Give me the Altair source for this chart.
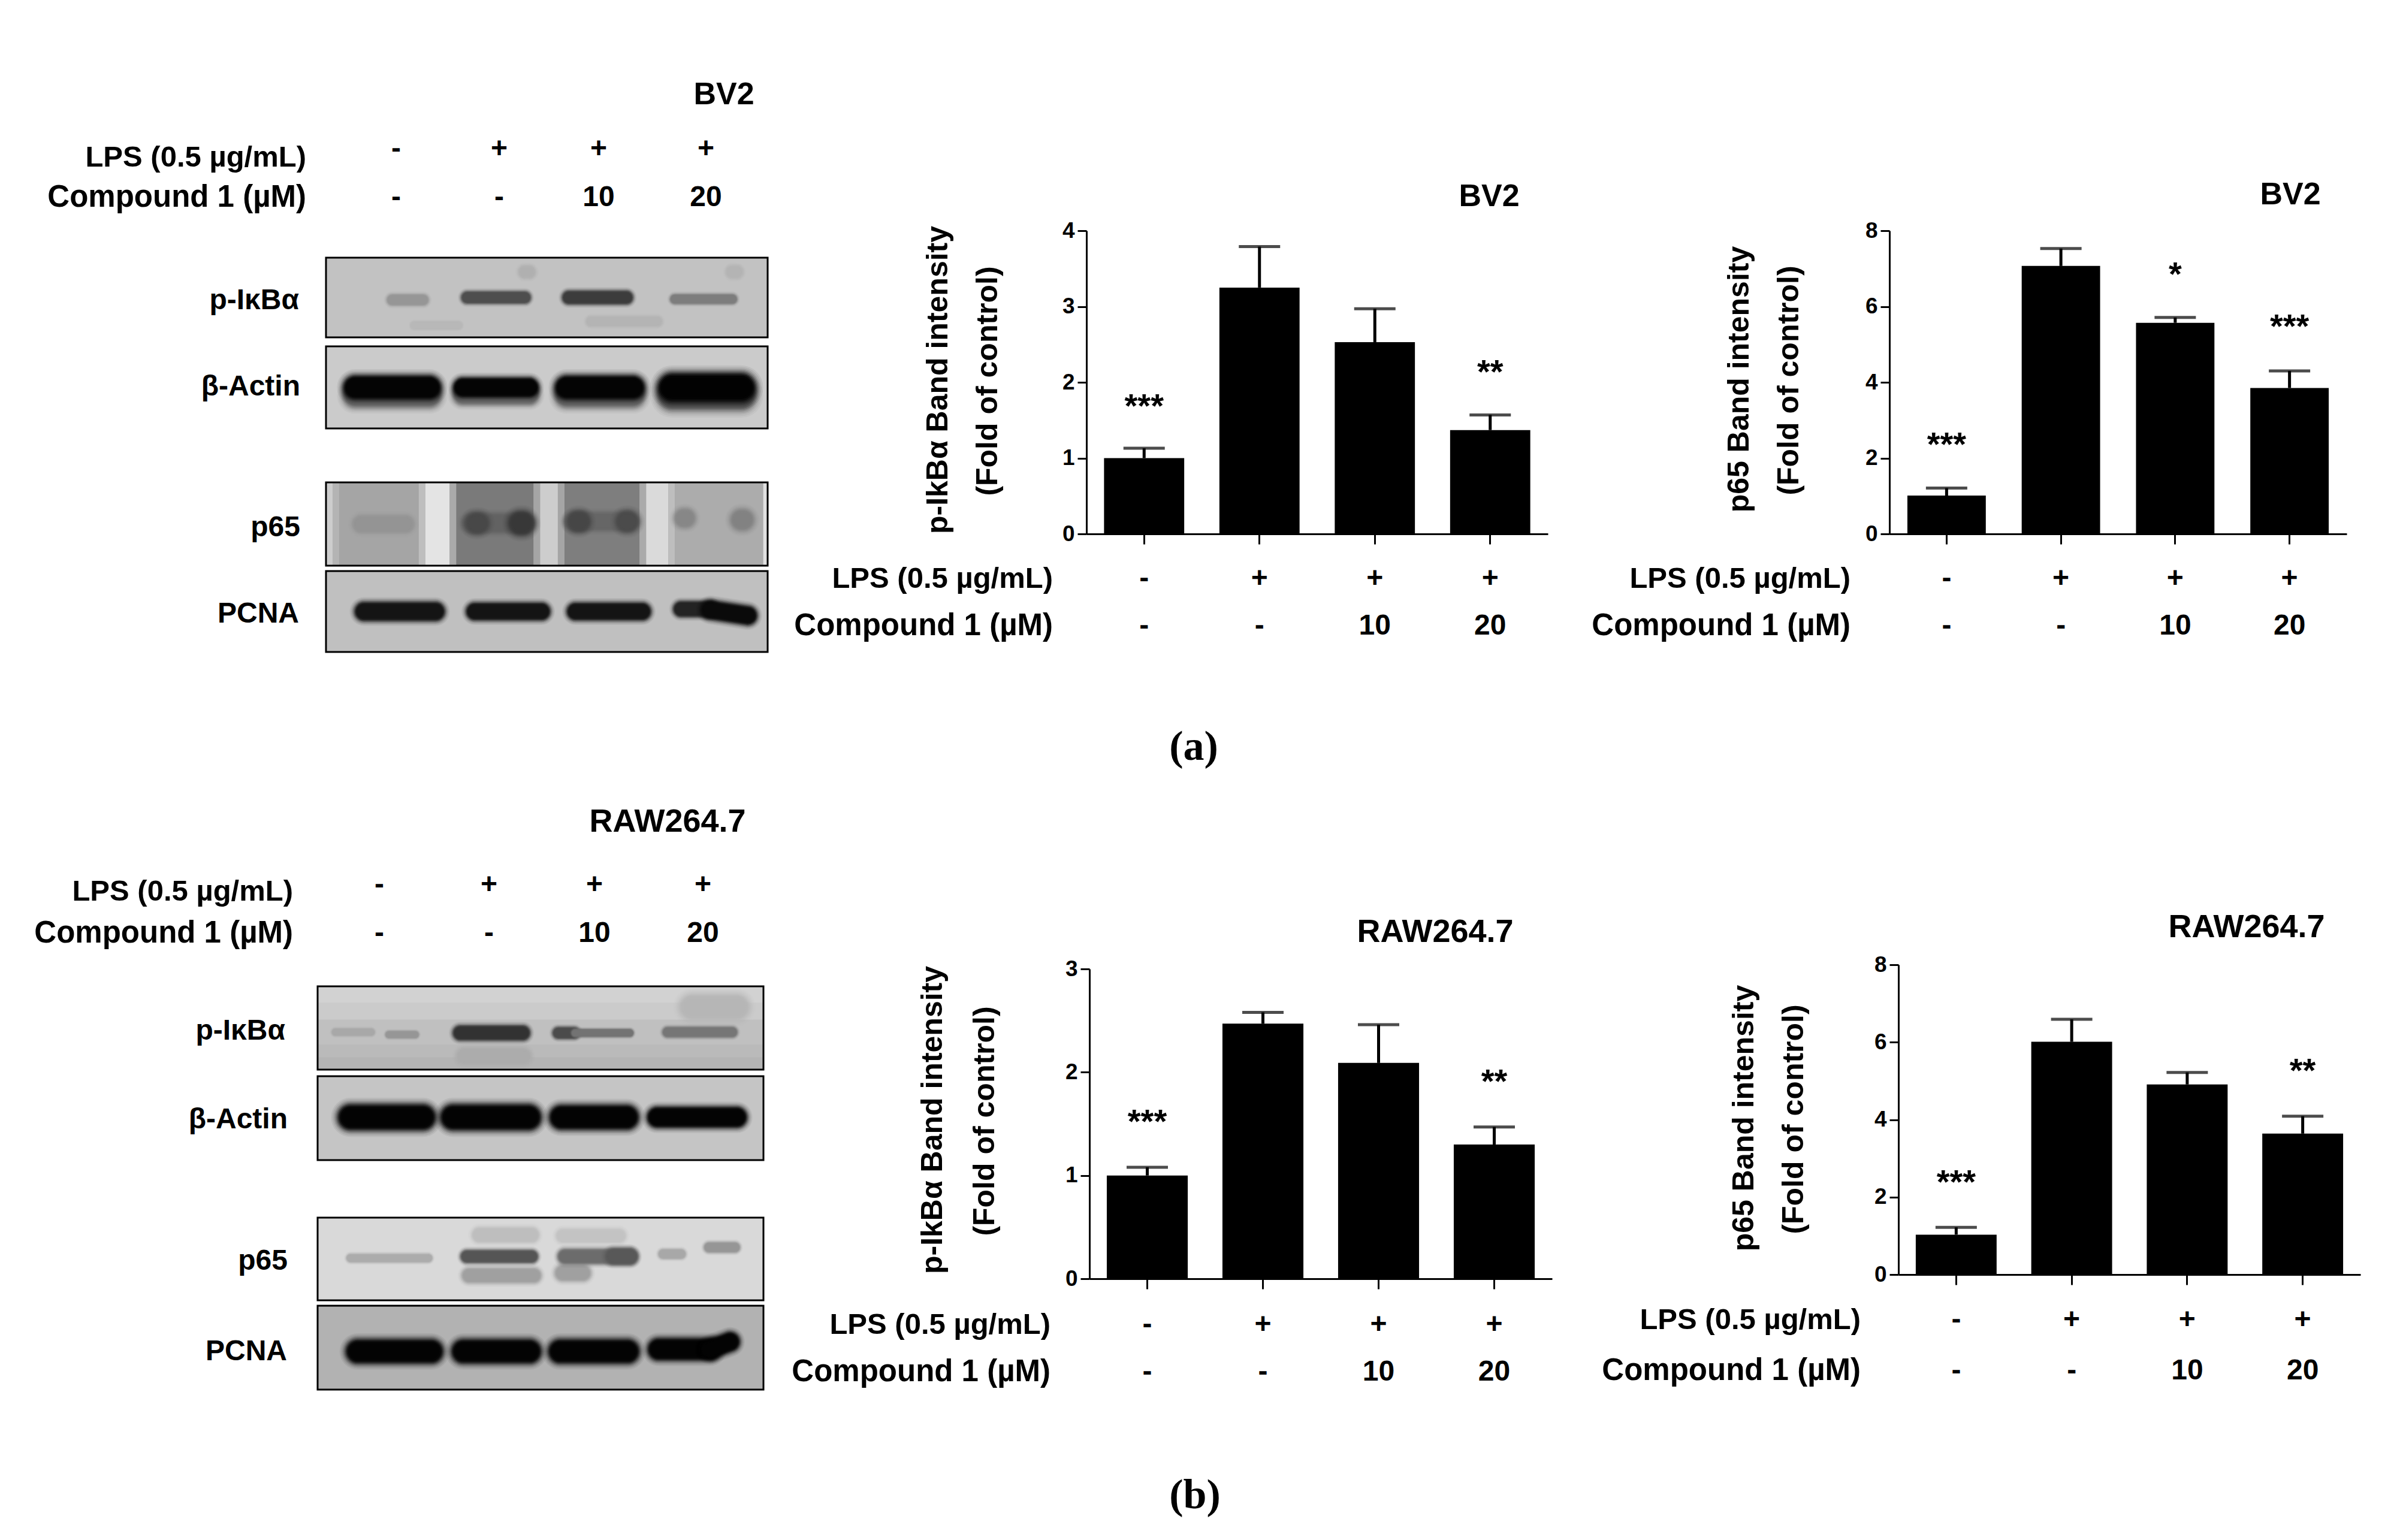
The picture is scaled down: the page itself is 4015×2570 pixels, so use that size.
import altair as alt
import pandas as pd

W, H = 3999, 2554
M = 8
SANS = "Liberation Sans"
SERIF = "Liberation Serif"

GROUPS = ["g1", "g2", "g3", "g4"]
LPS = ["-", "+", "+", "+"]
COMPOUND = ["-", "-", "10", "20"]
LPS_LABEL = "LPS (0.5 µg/mL)"
COMPOUND_LABEL = "Compound 1 (µM)"
FOLD = "(Fold of control)"

A1_MEAN = [1.00, 3.25, 2.53, 1.37]
A1_ERR = [1.13, 3.79, 2.97, 1.57]
A1_STARS = ["***", "", "", "**"]
A1_STAR_Y = [1.74, 0, 0, 2.19]
A1_TICKS = [0, 1, 2, 3, 4]

A2_MEAN = [1.01, 7.07, 5.57, 3.85]
A2_ERR = [1.21, 7.53, 5.71, 4.30]
A2_STARS = ["***", "", "*", "***"]
A2_STAR_Y = [2.47, 0, 6.96, 5.58]
A2_TICKS = [0, 2, 4, 6, 8]

B1_MEAN = [1.00, 2.47, 2.09, 1.30]
B1_ERR = [1.08, 2.58, 2.46, 1.47]
B1_STARS = ["***", "", "", "**"]
B1_STAR_Y = [1.56, 0, 0, 1.95]
B1_TICKS = [0, 1, 2, 3]

B2_MEAN = [1.03, 6.01, 4.91, 3.64]
B2_ERR = [1.22, 6.59, 5.22, 4.09]
B2_STARS = ["***", "", "", "**"]
B2_STAR_Y = [2.49, 0, 0, 5.37]
B2_TICKS = [0, 2, 4, 6, 8]

# Blot strips. Patches: x0, x1, y0, y1, grey. Bands: x0, x1, y0, y1, thickness, grey.
A_PIKB_BG = 194
A_PIKB_BANDS = [(45, 46, 18, 18, 20, 176), (92, 93, 18, 18, 20, 180), (20, 30, 85, 85, 12, 184), (60, 75, 80, 80, 16, 180),
                (15, 22, 53, 53, 18, 150), (32, 45, 50, 50, 20, 78), (55, 68, 50, 50, 22, 60), (79, 92, 52, 52, 16, 125)]
A_ACTIN_BG = 203
A_ACTIN_BANDS = [(6.6, 23.4, 60, 60, 38, 105), (31, 46, 59, 59, 32, 105), (54.5, 69.5, 60, 60, 38, 105), (78.4, 94, 60, 60, 46, 90),
                 (6.6, 23.4, 50, 50, 38, 4), (31, 46, 50, 50, 31, 4), (54.5, 69.5, 50, 50, 38, 4), (78.4, 94, 50, 50, 46, 2)]
A_P65_BG = 160
A_P65_PATCHES = [(0, 1.5, 0, 100, 205), (1.5, 3, 0, 100, 180), (3, 21, 0, 100, 165), (21, 22.5, 0, 100, 190), (22.5, 28, 0, 100, 228), (28, 29.5, 0, 100, 170),
                 (29.5, 47, 0, 100, 122), (47, 48.5, 0, 100, 165), (48.5, 52.5, 0, 100, 205), (52.5, 54, 0, 100, 165), (54, 71, 0, 100, 126),
                 (71, 72.5, 0, 100, 170), (72.5, 77.5, 0, 100, 218), (77.5, 79, 0, 100, 190), (79, 99, 0, 100, 172), (99, 100, 0, 100, 225)]
A_P65_BANDS = [(8, 18, 50, 50, 28, 148), (33, 45, 49, 49, 30, 98), (34, 34.5, 49, 49, 34, 72), (44, 44.5, 49, 49, 38, 56),
               (56, 68, 47, 47, 28, 102), (57, 57.5, 47, 47, 34, 70), (68, 68.5, 47, 47, 34, 75), (81, 81.5, 43, 43, 30, 135), (94, 94.5, 45, 45, 34, 130)]
A_PCNA_BG = 192
A_PCNA_BANDS = [(8.6, 24.8, 50, 50, 30, 20), (33.7, 48.8, 50, 50, 28, 20), (56.5, 71.6, 50, 50, 28, 20), (80.4, 87, 47, 47, 25, 35), (87, 95.5, 48, 55, 30, 10)]

B_PIKB_BG = 192
B_PIKB_PATCHES = [(0, 100, 0, 20, 210), (0, 100, 20, 40, 203), (0, 100, 70, 85, 186), (0, 100, 85, 100, 180)]
B_PIKB_BANDS = [(84, 94, 25, 25, 40, 182), (33, 46, 84, 84, 26, 172), (4, 12, 55, 55, 12, 168), (16, 21.9, 58, 58, 12, 150),
                (32, 46, 56, 56, 24, 50), (54, 57.5, 56, 56, 19, 75), (57.8, 70, 56, 56, 13, 115), (78.5, 93, 55, 55, 17, 118)]
B_ACTIN_BG = 197
B_ACTIN_BANDS = [(7.4, 23.6, 49, 49, 41, 3), (30.4, 47.3, 49, 49, 41, 3), (54.7, 69.3, 49, 49, 39, 3), (76.2, 94, 49, 49, 33, 3)]
B_P65_BG = 217
B_P65_BANDS = [(7.4, 24.8, 49, 49, 14, 172), (34, 48.5, 70, 70, 24, 160), (36.3, 48, 21, 21, 24, 190), (55, 59.5, 67, 67, 26, 160), (55, 67.6, 22, 22, 22, 195),
               (33.5, 48, 47, 47, 21, 85), (55.5, 70, 47, 47, 24, 108), (66.4, 70, 47, 47, 26, 88), (77.5, 81.5, 44, 44, 16, 168), (87.8, 93.6, 36, 36, 17, 150)]
B_PCNA_BG = 178
B_PCNA_BANDS = [(9, 25.5, 54.5, 54.5, 38, 3), (32.7, 47.5, 54.5, 54.5, 38, 3), (54.4, 69.5, 54.5, 54.5, 38, 3), (76.5, 88, 52, 52, 35, 3), (88, 92.5, 52, 43, 31, 3)]

SOFT_EDGE = [(1.6, 0.06), (1.48, 0.08), (1.36, 0.12), (1.26, 0.18), (1.16, 0.28), (1.06, 0.4), (0.96, 0.6), (0.85, 0.85), (0.7, 1.0)]


def grey(v):
    return "#{0:02x}{0:02x}{0:02x}".format(int(v))


def label(text, x, y, size, align="center", angle=0, font=SANS, weight="bold"):
    return alt.Chart(alt.Data(values=[{}])).mark_text(
        text=text, align=align, baseline="middle", fontSize=size, font=font,
        fontWeight=weight, angle=angle, color="#000000",
    ).encode(x=alt.value(x - M), y=alt.value(y - M + (2 if angle == 0 else 0)))


def strip(x0, x1, y0, y1, bg, bands, patches=()):
    xs = alt.Scale(domain=[0, 100], range=[x0 - M, x1 - M], nice=False, zero=False)
    ys = alt.Scale(domain=[0, 100], range=[y0 - M, y1 - M], nice=False, zero=False)
    rects = [(0, 100, 0, 100, bg)] + list(patches)
    rdf = pd.DataFrame(rects, columns=["a", "b", "c", "d", "g"])
    rdf["col"] = rdf["g"].map(grey)
    back = alt.Chart(rdf).mark_rect().encode(
        x=alt.X("a:Q", scale=xs, axis=None), x2="b:Q",
        y=alt.Y("c:Q", scale=ys, axis=None), y2="d:Q",
        fill=alt.Fill("col:N", scale=None),
    )
    rows_ = []
    for a, b, c, d, w, g in bands:
        for fw, op in SOFT_EDGE:
            rows_.append(dict(a=a, b=b, c=c, d=d, w=w * fw, o=op, col=grey(g)))
    marks = alt.Chart(pd.DataFrame(rows_)).mark_rule(strokeCap="round").encode(
        x=alt.X("a:Q", scale=xs, axis=None), x2="b:Q",
        y=alt.Y("c:Q", scale=ys, axis=None), y2="d:Q",
        stroke=alt.Stroke("col:N", scale=None),
        strokeWidth=alt.StrokeWidth("w:Q", scale=None),
        opacity=alt.Opacity("o:Q", scale=None),
    )
    border = alt.Chart(alt.Data(values=[{"a": 0, "b": 100, "c": 0, "d": 100}])).mark_rect(
        fillOpacity=0, stroke="#000000", strokeWidth=3
    ).encode(
        x=alt.X("a:Q", scale=xs, axis=None), x2="b:Q",
        y=alt.Y("c:Q", scale=ys, axis=None), y2="d:Q",
    )
    return [back, marks, border]


def bars(ax_x, ax_right, y0, ytop, dmax, ticks, mean, err, stars, star_y, pad, cap):
    xs = alt.Scale(type="band", domain=GROUPS, range=[ax_x - M, ax_right - M], paddingInner=pad, paddingOuter=pad / 2)
    ys = alt.Scale(domain=[0, dmax], range=[y0 - M, ytop - M], nice=False, zero=True)
    df = pd.DataFrame({"g": GROUPS, "m": mean, "e": err})
    xax = alt.Axis(orient="bottom", offset=(y0 - M) - H, labels=False, title=None, grid=False,
                   domainColor="#000000", domainWidth=3, tickColor="#000000", tickWidth=3, tickSize=17)
    yax = alt.Axis(orient="left", offset=-(ax_x - M), values=ticks, format="d", title=None, grid=False,
                   domainColor="#000000", domainWidth=3, tickColor="#000000", tickWidth=3, tickSize=15,
                   labelFont=SANS, labelFontSize=37, labelFontWeight="bold", labelColor="#000000", labelPadding=5)
    layers_ = [
        alt.Chart(df).mark_rule(color="#000000", strokeWidth=5).encode(
            x=alt.X("g:N", scale=xs, axis=None, sort=None),
            y=alt.Y("e:Q", scale=ys, axis=None), y2="m:Q"),
        alt.Chart(df).mark_tick(color="#000000", thickness=5, size=cap, orient="horizontal").encode(
            x=alt.X("g:N", scale=xs, axis=None, sort=None),
            y=alt.Y("e:Q", scale=ys, axis=None)),
        alt.Chart(df).mark_bar(color="#000000").encode(
            x=alt.X("g:N", scale=xs, axis=xax, sort=None),
            y=alt.Y("m:Q", scale=ys, axis=yax, stack=None)),
    ]
    sdf = pd.DataFrame({"g": GROUPS, "t": stars, "y": star_y})
    sdf = sdf[sdf["t"] != ""]
    layers_.append(alt.Chart(sdf).mark_text(font=SANS, fontWeight="bold", fontSize=56, dy=8, color="#000000").encode(
        x=alt.X("g:N", scale=xs, axis=None, sort=None),
        y=alt.Y("y:Q", scale=ys, axis=None), text="t:N"))
    return layers_, xs


def rows(xs, y_lps, y_cmp, right):
    df = pd.DataFrame({"g": GROUPS, "a": LPS, "b": COMPOUND})
    out = []
    for col, y in (("a", y_lps), ("b", y_cmp)):
        out.append(alt.Chart(df).mark_text(font=SANS, fontWeight="bold", fontSize=48, color="#000000", baseline="middle").encode(
            x=alt.X("g:N", scale=xs, axis=None, sort=None), y=alt.value(y - M + 2), text=f"{col}:N"))
    out.append(label(LPS_LABEL, right, y_lps, 49, align="right"))
    out.append(label(COMPOUND_LABEL, right, y_cmp, 51, align="right"))
    return out


def blot_header(xs_vals, y_lps, y_cmp, right, y_l2):
    out = [label(LPS_LABEL, right, y_l2, 49, align="right"), label(COMPOUND_LABEL, right, y_cmp, 51, align="right")]
    for x, a, b in zip(xs_vals, LPS, COMPOUND):
        out.append(label(a, x, y_lps, 48))
        out.append(label(b, x, y_cmp, 48))
    return out


layers = []

# (a) blots
layers += strip(544, 1281, 430, 563, A_PIKB_BG, A_PIKB_BANDS)
layers += strip(544, 1281, 578, 715, A_ACTIN_BG, A_ACTIN_BANDS)
layers += strip(544, 1281, 805, 944, A_P65_BG, A_P65_BANDS, A_P65_PATCHES)
layers += strip(544, 1281, 953, 1088, A_PCNA_BG, A_PCNA_BANDS)
layers += blot_header([661, 833, 999, 1178], 247, 328, 511, 261)
layers += [label("BV2", 1208, 156, 52), label("p-IκBα", 499, 500, 48, align="right"), label("β-Actin", 501, 644, 48, align="right"),
           label("p65", 501, 879, 48, align="right"), label("PCNA", 499, 1023, 48, align="right")]

# (b) blots
layers += strip(530, 1274, 1646, 1785, B_PIKB_BG, B_PIKB_BANDS, B_PIKB_PATCHES)
layers += strip(530, 1274, 1796, 1936, B_ACTIN_BG, B_ACTIN_BANDS)
layers += strip(530, 1274, 2032, 2170, B_P65_BG, B_P65_BANDS)
layers += strip(530, 1274, 2179, 2319, B_PCNA_BG, B_PCNA_BANDS)
layers += blot_header([633, 816, 992, 1173], 1475, 1556, 489, 1486)
layers += [label("RAW264.7", 1114, 1370, 54), label("p-IκBα", 476, 1719, 48, align="right"), label("β-Actin", 480, 1867, 48, align="right"),
           label("p65", 480, 2103, 48, align="right"), label("PCNA", 479, 2254, 48, align="right")]

# Bar panels
l, xs = bars(1813, 2583, 891, 385, 4, A1_TICKS, A1_MEAN, A1_ERR, A1_STARS, A1_STAR_Y, 0.305, 69)
layers += l + rows(xs, 964, 1043, 1757)
layers += [label("BV2", 2485, 326, 52), label("p-IkBα Band intensity", 1566, 634, 50, angle=270), label(FOLD, 1649, 636, 50, angle=270)]

l, xs = bars(3153, 3916, 891, 385, 8, A2_TICKS, A2_MEAN, A2_ERR, A2_STARS, A2_STAR_Y, 0.314, 69)
layers += l + rows(xs, 964, 1043, 3088)
layers += [label("BV2", 3822, 323, 52), label("p65 Band intensity", 2903, 633, 50, angle=270), label(FOLD, 2986, 635, 50, angle=270)]

l, xs = bars(1818, 2590, 2134, 1617, 3, B1_TICKS, B1_MEAN, B1_ERR, B1_STARS, B1_STAR_Y, 0.30, 69)
layers += l + rows(xs, 2209, 2288, 1753)
layers += [label("RAW264.7", 2395, 1554, 54), label("p-IkBα Band intensity", 1557, 1869, 50, angle=270), label(FOLD, 1644, 1871, 50, angle=270)]

l, xs = bars(3168, 3939, 2127, 1610, 8, B2_TICKS, B2_MEAN, B2_ERR, B2_STARS, B2_STAR_Y, 0.30, 69)
layers += l + rows(xs, 2201, 2286, 3105)
layers += [label("RAW264.7", 3749, 1546, 54), label("p65 Band intensity", 2911, 1866, 50, angle=270), label(FOLD, 2994, 1868, 50, angle=270)]

layers += [label("(a)", 1992, 1245, 70, font=SERIF), label("(b)", 1994, 2494, 70, font=SERIF)]

chart = alt.layer(*layers).resolve_scale(x="independent", y="independent").resolve_axis(x="independent", y="independent").properties(
    width=W, height=H, padding=0, autosize=alt.AutoSizeParams(type="none"), background="#ffffff"
).configure_view(stroke=None)

chart.save("out.html", embed_options={"renderer": "svg", "actions": False})
